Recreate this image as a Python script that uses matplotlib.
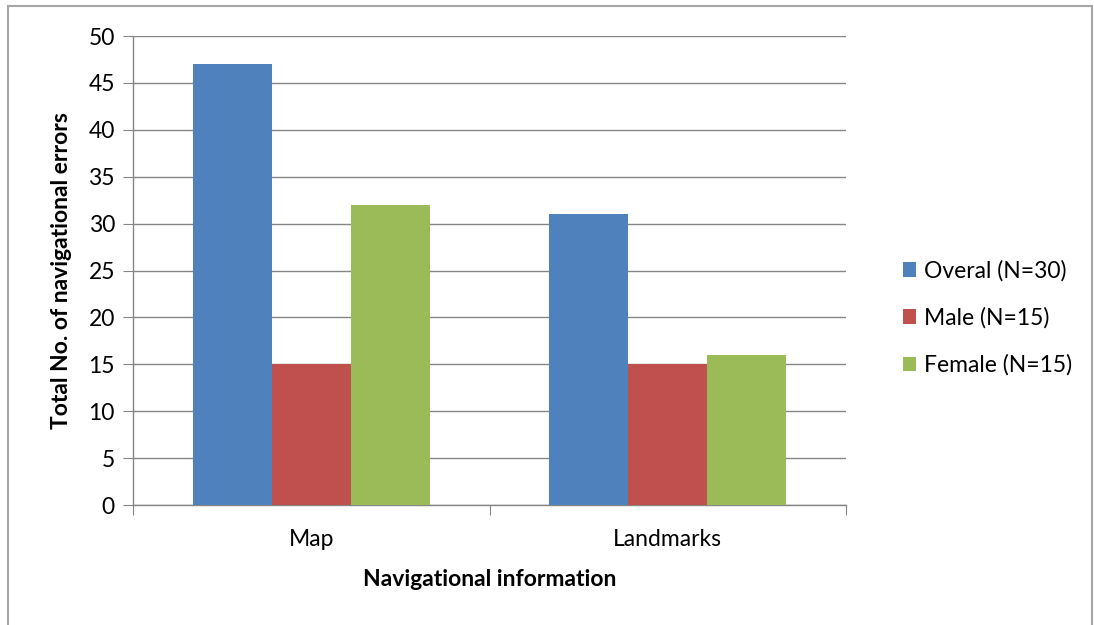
import matplotlib
matplotlib.use("Agg")
import matplotlib.pyplot as plt
from matplotlib.patches import Rectangle
import numpy as np

categories = ["Map", "Landmarks"]
series_names = ["Overal (N=30)", "Male (N=15)", "Female (N=15)"]
overall = [47, 31]
male = [15, 15]
female = [32, 16]
colors = ["#4F81BD", "#C0504D", "#9BBB59"]
yticks = [0, 5, 10, 15, 20, 25, 30, 35, 40, 45, 50]

plt.rcParams["font.family"] = ["Lato", "DejaVu Sans"]
FS = 16.5

fig = plt.figure(figsize=(10.94, 6.25), dpi=100)
ax = fig.add_axes([133 / 1094, 1 - 505 / 625, (846 - 133) / 1094, (505 - 36) / 625])

# outer chart frame
fig.patches.append(Rectangle((8 / 1094, -0.01), (1092 - 8) / 1094, 1 - 6 / 625 + 0.01,
                             transform=fig.transFigure, fill=False,
                             edgecolor="#A6A6A6", linewidth=1.5))

x = np.arange(len(categories))
width = 0.222
for i, (vals, name) in enumerate(zip([overall, male, female], series_names)):
    ax.bar(x + (i - 1) * width, vals, width, color=colors[i], label=name, zorder=3)

ax.set_xlim(-0.5, 1.5)
ax.set_ylim(0, 50)
ax.set_yticks(yticks)
ax.yaxis.grid(True, color="#868686", linewidth=1.0, zorder=0)
for s in ["top", "right"]:
    ax.spines[s].set_visible(False)
for s in ["left", "bottom"]:
    ax.spines[s].set_color("#868686")
    ax.spines[s].set_linewidth(1.0)

ax.set_xticks([-0.5, 0.5, 1.5])
ax.set_xticklabels([])
ax.set_xticks(x, minor=True)
ax.set_xticklabels(categories, minor=True)
ax.tick_params(axis="x", which="major", length=7, color="#868686", direction="out")
ax.tick_params(axis="x", which="minor", length=0, pad=17, labelsize=FS)
ax.tick_params(axis="y", length=7, color="#868686", direction="out", labelsize=FS, pad=6)

ax.set_xlabel("Navigational information", fontsize=FS, fontweight="bold", labelpad=14)
ax.set_ylabel("Total No. of navigational errors", fontsize=FS, fontweight="bold", labelpad=12)

ax.legend(loc="center left", bbox_to_anchor=(882 / 1094, 1 - 318 / 625),
          bbox_transform=fig.transFigure, frameon=False, fontsize=FS,
          handlelength=0.6, handleheight=0.6, handletextpad=0.35, labelspacing=1.12)

fig.savefig("out.png", dpi=100)
